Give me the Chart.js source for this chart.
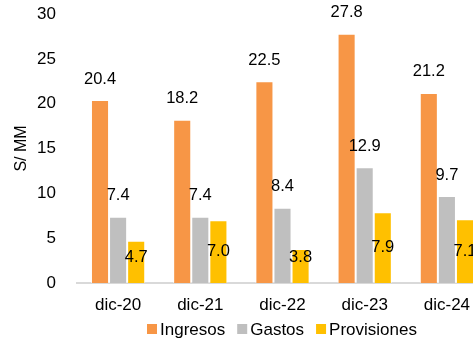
<!DOCTYPE html>
<html>
<head>
<meta charset="utf-8">
<script src="https://cdn.jsdelivr.net/npm/chart.js@4.4.0/dist/chart.umd.min.js"></script>
<style>
  html, body { margin: 0; padding: 0; background: #fff; overflow: hidden; }
  #wrap { width: 488px; height: 338px; }
</style>
</head>
<body>
<div id="wrap"><canvas id="chart"></canvas></div>
<script>
const categories = ['dic-20', 'dic-21', 'dic-22', 'dic-23', 'dic-24'];
const ingresos = [20.4, 18.2, 22.5, 27.8, 21.2];
const gastos = [7.4, 7.4, 8.4, 12.9, 9.7];
const provisiones = [4.7, 7.0, 3.8, 7.9, 7.1];
const seriesNames = ['Ingresos', 'Gastos', 'Provisiones'];
const seriesColors = ['#F79646', '#BFBFBF', '#FFC000'];
const yTicks = [0, 5, 10, 15, 20, 25, 30];

const FONT = 'Liberation Sans, Arial, sans-serif';

// value labels: above bar for first two series, inside for Provisiones
const labelPlugin = {
  id: 'barLabels',
  afterDatasetsDraw(chart) {
    const ctx = chart.ctx;
    const y = chart.scales.y;
    ctx.save();
    ctx.font = '16.5px ' + FONT;
    ctx.fillStyle = '#000';
    ctx.textAlign = 'center';
    ctx.textBaseline = 'middle';
    chart.data.datasets.forEach((ds, i) => {
      chart.getDatasetMeta(i).data.forEach((bar, j) => {
        const v = ds.data[j];
        let ly;
        if (i === 2) ly = y.getPixelForValue(Math.max(v / 2, 2.9));
        else ly = bar.y - 21;
        ctx.fillText(v.toFixed(1), bar.x, ly);
      });
    });
    ctx.restore();
  }
};

// legend drawn by hand so it sits where the original does
const legendPlugin = {
  id: 'bottomLegend',
  afterDraw(chart) {
    const ctx = chart.ctx;
    ctx.save();
    ctx.font = '17px ' + FONT;
    ctx.textBaseline = 'middle';
    const box = 10, gap = 3, spacing = 12;
    const widths = seriesNames.map(n => ctx.measureText(n).width);
    let x = 147;
    const cy = 329;
    seriesNames.forEach((n, i) => {
      ctx.fillStyle = seriesColors[i];
      ctx.fillRect(x, cy - box / 2, box, box);
      x += box + gap;
      ctx.fillStyle = '#000';
      ctx.fillText(n, x, cy + 1);
      x += widths[i] + spacing;
    });
    ctx.restore();
  }
};

const chart = new Chart(document.getElementById('chart'), {
  type: 'bar',
  data: {
    labels: categories,
    datasets: [
      { label: seriesNames[0], data: ingresos, backgroundColor: seriesColors[0] },
      { label: seriesNames[1], data: gastos, backgroundColor: seriesColors[1] },
      { label: seriesNames[2], data: provisiones, backgroundColor: seriesColors[2] }
    ]
  },
  options: {
    responsive: true,
    maintainAspectRatio: false,
    animation: false,
    layout: { padding: { top: 14, right: 0, bottom: 0, left: 0 } },
    datasets: {
      bar: {
        categoryPercentage: 0.66,
        barPercentage: 1,
        borderColor: 'rgba(255,255,255,0.7)',
        borderWidth: 1
      }
    },
    plugins: {
      legend: { display: false },
      tooltip: { enabled: false }
    },
    scales: {
      x: {
        grid: { display: false, drawTicks: false },
        border: { color: '#D9D9D9', width: 2 },
        ticks: { color: '#000', font: { family: FONT, size: 17 }, padding: 12 },
        afterFit(scale) { scale.height = 55; }
      },
      y: {
        min: 0,
        max: 30,
        afterBuildTicks(scale) { scale.ticks = yTicks.map(v => ({ value: v })); },
        grid: { display: false, drawTicks: false },
        border: { display: false },
        ticks: { color: '#000', font: { family: FONT, size: 17 }, padding: 21 },
        title: {
          display: true,
          text: 'S/ MM',
          color: '#000',
          font: { family: FONT, size: 16 },
          padding: { top: 12, bottom: 0 }
        },
        afterFit(scale) { scale.width = 77; scale.paddingTop = 0; scale.paddingBottom = 0; }
      }
    }
  },
  plugins: [labelPlugin, legendPlugin]
});

// the layout leaves extra room under the x axis; grow the (clipped) box so the axis lands at y=283
const wrap = document.getElementById('wrap');
for (let k = 0; k < 3; k++) {
  const diff = 283 - chart.chartArea.bottom;
  if (Math.abs(diff) < 0.5) break;
  wrap.style.height = (wrap.offsetHeight + diff) + 'px';
  chart.resize();
}
</script>
</body>
</html>
